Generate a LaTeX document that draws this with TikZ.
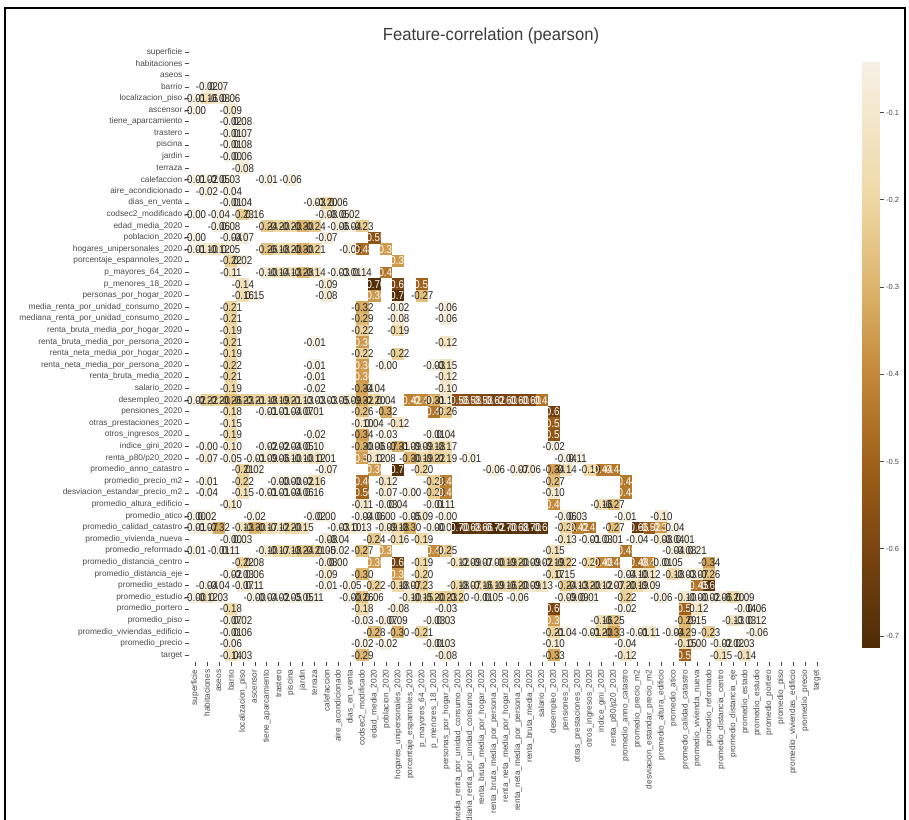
\documentclass[tikz,border=0pt]{standalone}
\usepackage{fontspec}
\setmainfont{Liberation Sans}
\definecolor{cz0}{HTML}{4E2C07}
\definecolor{cz1}{HTML}{7A4511}
\definecolor{cz2}{HTML}{A0621B}
\definecolor{cz3}{HTML}{C38838}
\definecolor{cz4}{HTML}{DDB46C}
\definecolor{cz5}{HTML}{EED8A4}
\definecolor{cz6}{HTML}{F7F1E4}
\definecolor{txtdark}{HTML}{262626}
\definecolor{lblgray}{HTML}{4A4A4A}
\newcommand\annfont{\fontsize{11.3}{12}\selectfont}
\newcommand\getcellcolor[1]{%
  \pgfmathsetmacro\vv{max(min(#1,-0.042),-0.714)}%
  \ifdim\vv pt<-0.6pt
    \pgfmathsetmacro\pp{(-0.6-\vv)/0.114*100}\def\ca{cz0}\def\cb{cz1}%
  \else\ifdim\vv pt<-0.5pt
    \pgfmathsetmacro\pp{(-0.5-\vv)*1000}\def\ca{cz1}\def\cb{cz2}%
  \else\ifdim\vv pt<-0.4pt
    \pgfmathsetmacro\pp{(-0.4-\vv)*1000}\def\ca{cz2}\def\cb{cz3}%
  \else\ifdim\vv pt<-0.3pt
    \pgfmathsetmacro\pp{(-0.3-\vv)*1000}\def\ca{cz3}\def\cb{cz4}%
  \else\ifdim\vv pt<-0.2pt
    \pgfmathsetmacro\pp{(-0.2-\vv)*1000}\def\ca{cz4}\def\cb{cz5}%
  \else
    \pgfmathsetmacro\pp{(-0.042-\vv)/0.158*100}\def\ca{cz5}\def\cb{cz6}%
  \fi\fi\fi\fi\fi
  \pgfmathsetmacro\pp{min(100,max(0,\pp))}%
  \colorlet{cellc}{\ca!\pp!\cb}%
  \ifdim\vv pt<-0.345pt \def\tc{white}\else\def\tc{txtdark}\fi
}
\def\heatdata{%
3/{1/-0.02,2/0.07},
4/{0/-0.01,1/-0.16,2/-0.08,3/0.06},
5/{0/-0.00,3/-0.09},
6/{3/-0.02,4/0.08},
7/{3/-0.01,4/0.07},
8/{3/-0.01,4/0.08},
9/{3/-0.00,4/0.06},
10/{4/-0.08},
11/{0/-0.01,1/-0.02,2/-0.05,3/0.03,6/-0.01,8/-0.06},
12/{1/-0.02,3/-0.04},
13/{3/-0.01,4/0.04,10/-0.03,11/-0.20,12/0.06},
14/{0/-0.00,2/-0.04,4/-0.23,5/0.16,11/-0.08,12/-0.05,13/0.02},
15/{2/-0.06,3/0.08,6/-0.24,7/-0.20,8/-0.20,9/-0.30,10/-0.24,12/-0.06,13/-0.04,14/-0.23},
16/{0/-0.00,3/-0.04,4/-0.07,11/-0.07,15/-0.55},
17/{0/-0.01,1/-0.10,2/-0.12,3/0.05,6/-0.26,7/-0.18,8/-0.20,9/-0.30,10/-0.21,13/-0.05,14/-0.48,16/-0.36},
18/{3/-0.22,4/0.02,17/-0.36},
19/{3/-0.11,6/-0.10,7/-0.14,8/-0.13,9/-0.28,10/-0.14,12/-0.03,13/-0.01,14/0.14,16/-0.45},
20/{4/-0.14,11/-0.09,15/-0.70,17/-0.60,19/-0.50},
21/{4/-0.16,5/0.15,11/-0.08,15/-0.36,17/-0.70,19/-0.27},
22/{3/-0.21,14/-0.32,17/-0.02,21/-0.06},
23/{3/-0.21,14/-0.29,17/-0.08,21/-0.06},
24/{3/-0.19,14/-0.22,17/-0.19},
25/{3/-0.21,10/-0.01,14/-0.36,21/-0.12},
26/{3/-0.19,14/-0.22,17/-0.22},
27/{3/-0.22,10/-0.01,14/-0.36,16/-0.00,20/-0.03,21/-0.15},
28/{3/-0.21,10/-0.01,14/-0.36,21/-0.12},
29/{3/-0.19,10/-0.02,14/-0.34,15/-0.04,21/-0.10},
30/{0/-0.02,1/-0.22,2/-0.20,3/-0.26,4/-0.23,5/-0.21,6/-0.18,7/-0.19,8/-0.21,9/-0.13,10/-0.03,11/-0.03,12/-0.05,13/-0.09,14/-0.32,15/-0.20,16/0.04,18/-0.42,19/-0.40,20/-0.31,21/-0.11,22/-0.56,23/-0.58,24/-0.58,25/-0.62,26/-0.60,27/-0.60,28/-0.60,29/-0.45},
31/{3/-0.18,6/-0.01,7/-0.01,8/-0.04,9/-0.07,10/0.01,14/-0.26,16/-0.32,20/-0.45,21/-0.26,30/-0.62},
32/{3/-0.15,14/-0.10,15/0.04,17/-0.12,30/-0.52},
33/{3/-0.19,10/-0.02,14/-0.34,16/-0.03,20/-0.01,21/0.04,30/-0.55},
34/{1/-0.00,3/-0.10,6/-0.02,7/-0.02,8/-0.04,9/-0.05,10/0.10,14/-0.30,15/-0.06,16/-0.07,17/-0.31,18/-0.09,19/-0.09,20/-0.18,21/-0.17,30/-0.02},
35/{1/-0.07,3/-0.05,5/-0.01,6/-0.09,7/-0.06,8/-0.10,9/-0.10,10/-0.12,11/0.01,14/-0.35,15/-0.12,16/0.08,18/-0.30,19/-0.19,20/-0.22,21/-0.19,23/-0.01,31/-0.04,32/0.11},
36/{4/-0.21,5/0.02,11/-0.07,15/-0.36,17/-0.70,19/-0.20,25/-0.06,27/-0.07,28/-0.06,30/-0.34,31/-0.14,33/-0.19,34/-0.44,35/-0.44},
37/{1/-0.01,4/-0.22,7/-0.00,8/-0.00,9/-0.02,10/-0.16,14/-0.46,16/-0.12,20/-0.23,21/-0.42,30/-0.27,36/-0.44},
38/{1/-0.04,4/-0.15,6/-0.01,7/-0.01,8/-0.04,9/-0.06,10/0.16,14/-0.50,16/-0.07,18/-0.00,20/-0.23,21/-0.42,30/-0.10,36/-0.44},
39/{3/-0.10,14/-0.11,16/-0.03,17/0.04,20/-0.01,21/0.11,30/-0.40,34/-0.16,35/-0.27},
40/{0/-0.00,1/0.02,5/-0.02,10/-0.02,11/0.00,14/-0.04,15/-0.06,16/0.00,18/-0.05,19/-0.09,21/-0.00,31/-0.06,32/0.03,36/-0.01,39/-0.10},
41/{0/-0.01,1/-0.07,2/-0.32,4/-0.13,5/-0.30,6/-0.17,7/-0.12,8/-0.20,9/-0.15,12/-0.03,13/-0.10,14/0.13,16/-0.09,17/-0.18,18/-0.30,20/-0.00,21/-0.02,22/-0.70,23/-0.68,24/-0.66,25/-0.72,26/-0.70,27/-0.68,28/-0.70,29/-0.67,31/-0.22,32/-0.42,33/-0.45,35/-0.27,37/-0.66,38/-0.52,39/-0.36,40/-0.04},
42/{3/-0.00,4/0.03,11/-0.08,12/-0.04,15/-0.24,17/-0.16,19/-0.19,31/-0.13,33/-0.01,34/-0.03,35/0.01,37/-0.04,39/-0.08,40/-0.04,41/0.01},
43/{0/-0.01,2/-0.01,3/0.11,6/-0.10,7/-0.17,8/-0.18,9/-0.24,10/-0.21,11/0.05,12/-0.02,14/-0.27,16/-0.35,20/-0.40,21/-0.25,30/-0.15,36/-0.45,40/-0.04,41/-0.08,42/0.21},
44/{4/-0.22,5/0.08,11/-0.08,12/0.00,15/-0.36,17/-0.62,19/-0.19,22/-0.12,23/-0.09,24/-0.07,25/-0.00,26/-0.19,27/-0.20,28/-0.09,29/-0.02,30/-0.19,31/-0.22,33/-0.20,34/-0.40,35/-0.44,37/-0.48,38/-0.40,39/-0.01,40/0.05,43/-0.34},
45/{3/-0.02,4/-0.03,5/0.06,11/-0.09,14/-0.30,17/-0.36,19/-0.20,30/-0.17,31/0.15,36/-0.04,37/-0.10,38/-0.12,40/-0.18,41/-0.03,42/-0.07,43/-0.26},
46/{1/-0.04,2/-0.04,4/-0.07,5/0.11,11/-0.01,13/-0.05,15/-0.22,17/-0.18,18/-0.07,19/-0.23,22/-0.18,23/-0.07,24/-0.16,25/-0.19,26/-0.16,27/-0.20,28/-0.09,29/-0.13,31/-0.24,32/-0.13,33/-0.20,34/-0.12,35/-0.07,36/-0.20,37/-0.19,38/-0.09,42/-0.45,43/-0.69},
47/{0/-0.00,1/-0.12,2/0.03,5/-0.00,6/-0.04,7/-0.02,8/-0.05,9/-0.05,10/0.11,13/-0.00,14/-0.26,15/0.06,18/-0.10,19/-0.15,20/-0.20,21/-0.23,22/-0.20,24/-0.01,25/0.05,27/-0.06,31/-0.09,32/-0.09,33/0.01,36/-0.22,39/-0.06,41/-0.10,42/-0.00,43/-0.02,44/-0.06,45/-0.20,46/0.09},
48/{3/-0.18,14/-0.18,17/-0.08,21/-0.03,30/-0.60,36/-0.02,41/-0.50,42/-0.12,46/-0.04,47/0.06},
49/{3/-0.07,4/0.02,14/-0.03,16/-0.07,17/0.09,20/-0.03,21/0.03,30/-0.36,34/-0.16,35/-0.25,41/-0.29,42/0.15,45/-0.13,46/-0.03,47/0.12},
50/{3/-0.01,4/0.06,15/-0.28,17/-0.30,19/-0.21,30/-0.21,31/-0.04,33/-0.01,34/-0.20,35/-0.33,37/-0.01,38/-0.11,40/-0.04,41/-0.29,43/-0.23,47/-0.06},
51/{3/-0.06,14/-0.02,16/-0.02,20/-0.01,21/0.03,30/-0.10,36/-0.04,41/-0.15,42/0.00,44/-0.02,45/-0.02,46/0.03},
52/{3/-0.14,4/0.03,14/-0.29,21/-0.08,30/-0.33,36/-0.12,41/-0.50,44/-0.15,46/-0.14}}
\begin{document}
\begin{tikzpicture}[x=1pt,y=-1pt,
  lbl/.style={text=lblgray,inner sep=0pt,font=\fontsize{8.3}{9}\selectfont},
  tickline/.style={draw=lblgray,line width=0.6pt},
  ann/.style={inner sep=0pt,font=\annfont}]
\useasboundingbox (0,0) rectangle (909,819);
\clip (0,0) rectangle (909,819);
\fill[white] (0,0) rectangle (909,819);
% frame
\draw[line width=2.2pt,black] (5,840) -- (5,8) -- (905,8) -- (905,840);
% title
\node[text=txtdark!90,inner sep=0pt] (title) at (491,36)
  {\fontsize{17.5}{18}\selectfont\scalebox{0.95}[1]{Feature-correlation (pearson)}};
% labels
\foreach \n [count=\i from 0] in {superficie, habitaciones, aseos, barrio, localizacion\_piso, ascensor, tiene\_aparcamiento, trastero, piscina, jardin, terraza, calefaccion, aire\_acondicionado, dias\_en\_venta, codsec2\_modificado, edad\_media\_2020, poblacion\_2020, hogares\_unipersonales\_2020, porcentaje\_espannoles\_2020, p\_mayores\_64\_2020, p\_menores\_18\_2020, personas\_por\_hogar\_2020, media\_renta\_por\_unidad\_consumo\_2020, mediana\_renta\_por\_unidad\_consumo\_2020, renta\_bruta\_media\_por\_hogar\_2020, renta\_bruta\_media\_por\_persona\_2020, renta\_neta\_media\_por\_hogar\_2020, renta\_neta\_media\_por\_persona\_2020, renta\_bruta\_media\_2020, salario\_2020, desempleo\_2020, pensiones\_2020, otras\_prestaciones\_2020, otros\_ingresos\_2020, indice\_gini\_2020, renta\_p80/p20\_2020, promedio\_anno\_catastro, promedio\_precio\_m2, desviacion\_estandar\_precio\_m2, promedio\_altura\_edificio, promedio\_atico, promedio\_calidad\_catastro, promedio\_vivienda\_nueva, promedio\_reformado, promedio\_distancia\_centro, promedio\_distancia\_eje, promedio\_estado, promedio\_estudio, promedio\_portero, promedio\_piso, promedio\_viviendas\_edificio, promedio\_precio, target}{
  \node[lbl,anchor=east] (ylab\i) at (182.5,52+11.6*\i) {\n};
  \draw[tickline] (184.5,52+11.6*\i) -- (188.5,52+11.6*\i);
  \node[lbl,anchor=east,rotate=90] (xlab\i) at (195+11.96*\i,669.5) {\n};
  \draw[tickline] (195+11.96*\i,661.5) -- (195+11.96*\i,665.5);
}
% heatmap cells
\foreach \r/\cl in \heatdata {
  \foreach \c/\v in \cl {
    \getcellcolor{\v}
    \fill[cellc] (189+11.96*\c,46.2+11.6*\r) rectangle ++(12.1,11.75);
  }
}
% annotations
\foreach \r/\cl in \heatdata {
  \foreach \c/\v in \cl {
    \getcellcolor{\v}
    \node[ann,text=\tc] (a\r-\c) at (195+11.96*\c,52.2+11.6*\r) {\scalebox{0.86}[1]{\v}};
  }
}
% colorbar
\foreach \k in {0,...,239}{
  \pgfmathsetmacro\cv{-0.714+0.0028*(\k+0.5)}
  \pgfmathsetmacro\cy{648-2.44167*\k}
  \getcellcolor{\cv}
  \fill[cellc] (862,\cy) rectangle (880,\cy-2.9);
}
\foreach \t in {1,...,7}{
  \pgfmathsetmacro\ty{648-(0.714-0.1*\t)*872.02}
  \draw[tickline] (880,\ty) -- (883.5,\ty);
  \node[lbl,anchor=west,font=\fontsize{7.5}{8}\selectfont] (cb\t) at (886,\ty) {-0.\t};
}
\end{tikzpicture}
\end{document}
